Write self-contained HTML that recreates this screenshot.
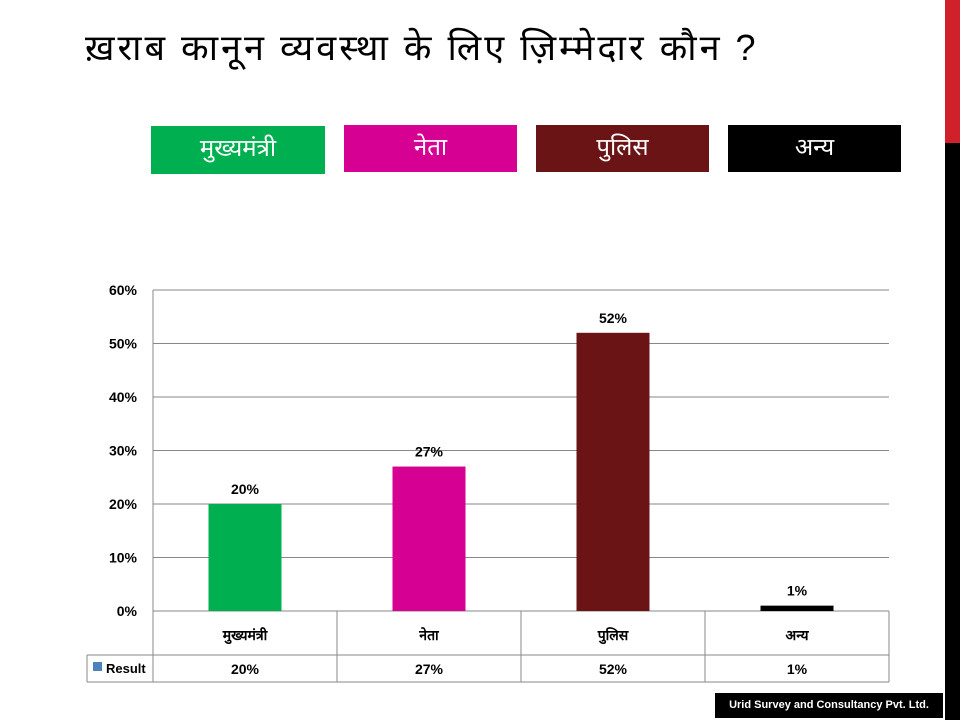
<!DOCTYPE html>
<html><head><meta charset="utf-8"><style>
body{margin:0;width:960px;height:720px;position:relative;background:#fff;font-family:"Liberation Sans",sans-serif;overflow:hidden}
.abs{position:absolute}
.leg{position:absolute;color:#fff;font-size:24px;text-align:center;line-height:46px}
</style></head><body>
<div class="abs" style="left:945px;top:0;width:15px;height:143px;background:#d0202a"></div>
<div class="abs" style="left:945px;top:143px;width:15px;height:577px;background:#000"></div>
<div class="abs" style="left:85px;top:22px;width:820px;font-size:36px;letter-spacing:3px;white-space:nowrap">ख़राब कानून व्यवस्था के लिए ज़िम्मेदार कौन ?</div>
<div class="leg" style="left:151px;top:126px;width:174px;height:48px;background:#00b050">मुख्यमंत्री</div>
<div class="leg" style="left:344px;top:125px;width:173px;height:47px;background:#d60093">नेता</div>
<div class="leg" style="left:536px;top:125px;width:173px;height:47px;background:#6b1416">पुलिस</div>
<div class="leg" style="left:728px;top:125px;width:173px;height:47px;background:#000">अन्य</div>
<svg id="chart" class="abs" style="left:0;top:0" width="960" height="720"></svg>
<div class="abs" style="left:715px;top:693px;width:228px;height:25px;background:#000;color:#fff;font-size:11px;font-weight:bold;line-height:25px;text-align:center">Urid Survey and Consultancy Pvt. Ltd.</div>
<script>
const categories=["मुख्यमंत्री","नेता","पुलिस","अन्य"];
const values=[20,27,52,1];
const colors=["#00b050","#d60093","#6b1416","#000000"];
const ticks=[0,10,20,30,40,50,60];
const svg=document.getElementById('chart');
const NS="http://www.w3.org/2000/svg";
const X0=153,X1=889,Y0=611,Y1=290,MAX=60;
const y=v=>Y0-(v/MAX)*(Y0-Y1);
const bw=(X1-X0)/categories.length;
const x=i=>X0+bw*i+bw/2;
function mk(t,a){const e=document.createElementNS(NS,t);for(const k in a)e.setAttribute(k,a[k]);svg.appendChild(e);return e;}
ticks.forEach(t=>{
 const l=mk('line',{x1:X0,x2:X1,y1:y(t),y2:y(t),stroke:'#888','stroke-width':1});
 
 
 const tx=mk('text',{x:137,y:y(t)+5,'text-anchor':'end','font-size':14,'font-weight':'bold','font-family':'Liberation Sans, sans-serif'});
 tx.textContent=t+'%';
 
 
});
mk('line',{x1:X0,x2:X0,y1:Y1,y2:682,stroke:'#888'});
values.forEach((v,i)=>{
 const r=mk('rect',{x:x(i)-36.5,y:y(v),width:73,height:Y0-y(v),fill:colors[i]});
 
 
 const t=mk('text',{x:x(i),y:y(v)-10,'text-anchor':'middle','font-size':14,'font-weight':'bold','font-family':'Liberation Sans, sans-serif'});
 t.textContent=v+'%';
 
 
 const c=mk('text',{x:x(i),y:640,'text-anchor':'middle','font-size':14,'font-weight':'bold','font-family':'Liberation Sans, sans-serif'});
 c.textContent=categories[i];
 
 
 const d=mk('text',{x:x(i),y:674,'text-anchor':'middle','font-size':14,'font-weight':'bold','font-family':'Liberation Sans, sans-serif'});
 d.textContent=v+'%';
 
 
 mk('line',{x1:X0+bw*(i+1),x2:X0+bw*(i+1),y1:Y0,y2:682,stroke:'#888'});
});
mk('line',{x1:87,x2:X1,y1:655,y2:655,stroke:'#888'});
mk('line',{x1:87,x2:X1,y1:682,y2:682,stroke:'#888'});
mk('line',{x1:87,x2:87,y1:655,y2:682,stroke:'#888'});
const lk=mk('rect',{x:93,y:662,width:9,height:9,fill:'#4f81bd'});


const lt=mk('text',{x:106,y:673,'font-size':13,'font-weight':'bold','font-family':'Liberation Sans, sans-serif'});
lt.textContent='Result';


</script>
</body></html>
